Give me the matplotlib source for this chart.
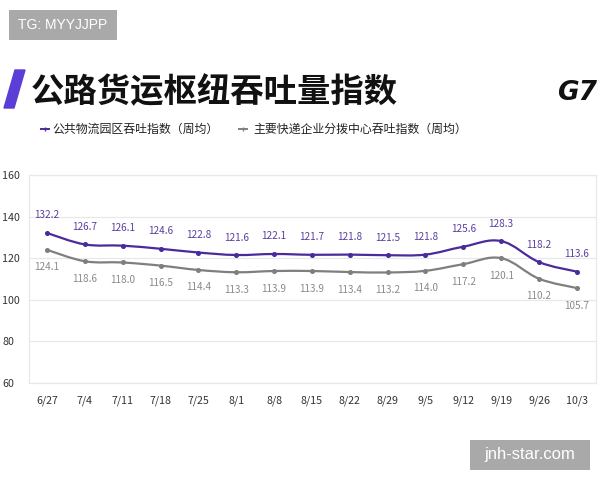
import matplotlib
matplotlib.use("Agg")
import matplotlib.pyplot as plt
import numpy as np
from matplotlib.path import Path
from matplotlib.patches import PathPatch, Polygon, FancyBboxPatch

plt.rcParams['font.family'] = ['Noto Sans CJK SC', 'DejaVu Sans']

weeks = ["6/27", "7/4", "7/11", "7/18", "7/25", "8/1", "8/8", "8/15", "8/22", "8/29",
         "9/5", "9/12", "9/19", "9/26", "10/3"]
park_index = [132.2, 126.7, 126.1, 124.6, 122.8, 121.6, 122.1, 121.7, 121.8, 121.5,
              121.8, 125.6, 128.3, 118.2, 113.6]
express_index = [124.1, 118.6, 118.0, 116.5, 114.4, 113.3, 113.9, 113.9, 113.4, 113.2,
                 114.0, 117.2, 120.1, 110.2, 105.7]
yticks = [60, 80, 100, 120, 140, 160]
series_names = ["公共物流园区吞吐指数（周均）", "主要快递企业分拨中心吞吐指数（周均）"]

purple = "#4b2a9c"
grey = "#7f7f7f"
purple_lbl = "#5a3ea0"
grey_lbl = "#8a8a8a"

fig = plt.figure(figsize=(6, 4.8), dpi=100)
ax = fig.add_axes([0.048, 0.202, 0.945, 0.433])

x = np.arange(len(weeks))


def smooth_path(xs, ys, t=0.18):
    verts = [(xs[0], ys[0])]
    codes = [Path.MOVETO]
    n = len(xs)
    for i in range(n - 1):
        p0 = (xs[max(i - 1, 0)], ys[max(i - 1, 0)])
        p1 = (xs[i], ys[i])
        p2 = (xs[i + 1], ys[i + 1])
        p3 = (xs[min(i + 2, n - 1)], ys[min(i + 2, n - 1)])
        c1 = (p1[0] + (p2[0] - p0[0]) * t, p1[1] + (p2[1] - p0[1]) * t)
        c2 = (p2[0] - (p3[0] - p1[0]) * t, p2[1] - (p3[1] - p1[1]) * t)
        verts += [c1, c2, p2]
        codes += [Path.CURVE4] * 3
    return Path(verts, codes)


for vals, col in [(express_index, grey), (park_index, purple)]:
    ax.add_patch(PathPatch(smooth_path(x, vals), facecolor="none", edgecolor=col, lw=1.6, zorder=3))
    ax.plot(x, vals, ls="none", marker="o", ms=2.6, color=col, zorder=4)

for xi, v in zip(x, park_index):
    ax.annotate(f"{v:.1f}", (xi, v), xytext=(0, 9), textcoords="offset points",
                ha="center", va="bottom", fontsize=7.2, color=purple_lbl)
for xi, v in zip(x, express_index):
    ax.annotate(f"{v:.1f}", (xi, v), xytext=(0, -9), textcoords="offset points",
                ha="center", va="top", fontsize=7.2, color=grey_lbl)

ax.set_xlim(-0.48, 14.5)
ax.set_ylim(60, 160)
ax.set_yticks(yticks)
ax.set_yticklabels([str(v) for v in yticks])
ax.set_xticks(x)
ax.set_xticklabels(weeks)
ax.tick_params(axis="both", length=0, labelsize=7.7, colors="#333333")
ax.tick_params(axis="x", pad=9)
for lbl in ax.get_yticklabels():
    lbl.set_horizontalalignment("left")
ax.tick_params(axis="y", pad=19)
ax.grid(axis="y", color="#e8e8e8", lw=0.9)
ax.set_axisbelow(True)
for s in ax.spines.values():
    s.set_color("#e8e8e8")
    s.set_linewidth(0.9)

# Title and decorations
fig.patches.append(Polygon([[4 / 600, 1 - 108 / 480], [14 / 600, 1 - 108 / 480],
                            [25 / 600, 1 - 70 / 480], [15 / 600, 1 - 70 / 480]],
                           closed=True, transform=fig.transFigure, color="#5b3ed6"))
fig.text(31 / 600, 1 - 93 / 480, "公路货运枢纽吞吐量指数", fontsize=24, fontweight="bold",
         color="#111111", va="center", ha="left")
fig.text(597 / 600, 1 - 93 / 480, "G7", fontsize=19, fontweight="bold", style="italic",
         family="DejaVu Sans", color="#111111", va="center", ha="right")

# legend
ly = 1 - 129 / 480
fig.lines.append(plt.Line2D([41 / 600, 49 / 600], [ly, ly], color=purple, lw=1.4, transform=fig.transFigure))
fig.lines.append(plt.Line2D([45 / 600], [ly], color=purple, marker="|", ms=3, transform=fig.transFigure))
fig.text(52 / 600, ly, series_names[0], fontsize=8.6, color="#222222", va="center", ha="left")
fig.lines.append(plt.Line2D([239 / 600, 247 / 600], [ly, ly], color=grey, lw=1.4, transform=fig.transFigure))
fig.lines.append(plt.Line2D([243 / 600], [ly], color=grey, marker="|", ms=3, transform=fig.transFigure))
fig.text(253 / 600, ly, series_names[1], fontsize=8.6, color="#222222", va="center", ha="left")

# watermark boxes
for (x0, y0, w, h, txt, fs) in [(9, 10, 108, 30, "TG: MYYJJPP", 10),
                                (470, 440, 120, 30, "jnh-star.com", 12)]:
    fig.patches.append(FancyBboxPatch((x0 / 600, 1 - (y0 + h) / 480), w / 600, h / 480,
                                      boxstyle="square,pad=0", transform=fig.transFigure,
                                      facecolor="#a9a9a9", edgecolor="none"))
    fig.text((x0 + w / 2) / 600, 1 - (y0 + h / 2) / 480, txt, fontsize=fs, color="white",
             ha="center", va="center", family="Liberation Sans")

fig.savefig("out.png", dpi=100)
